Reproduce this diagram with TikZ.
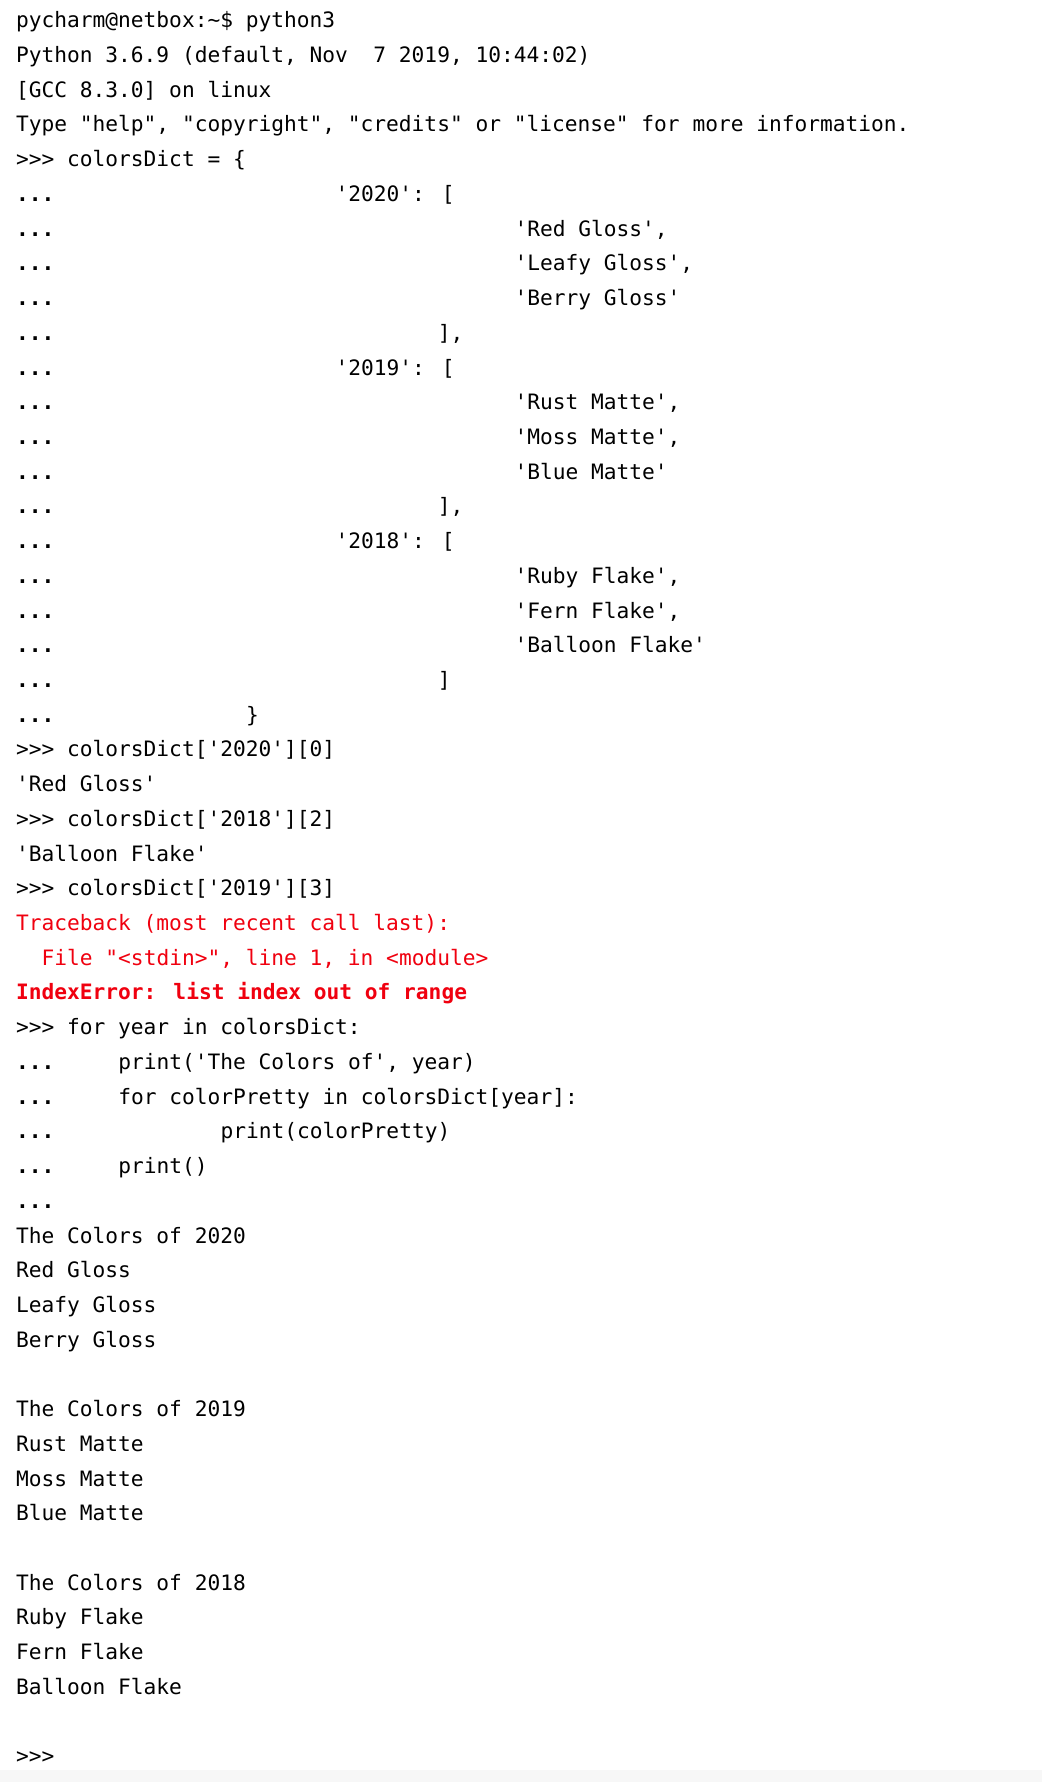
\documentclass[tikz,border=0pt]{standalone}
\usepackage{fontspec}
\newfontfamily\mono{DejaVu Sans Mono}
\definecolor{tred}{HTML}{F0000F}
\tikzset{txt/.style={anchor=base west,inner sep=0pt,font=\mono\fontsize{21.2}{25}\selectfont,text=black}}
\newcommand\tl[4][black]{\node[txt,text=#1] (l#2c#3) at ({15.9+#3*12.78},{-(27.8+(#2-1)*34.72)}) {#4};}
\newcommand\dl[3]{\tl{#1}{0}{\bfseries ...}\tl{#1}{#2}{#3}}
\begin{document}
\begin{tikzpicture}[x=1pt,y=1pt]
\useasboundingbox[fill=white] (0,0) rectangle (1042,-1782);
\fill[black!3] (0,-1770) rectangle (1042,-1782);
\tl{1}{0}{pycharm@netbox:\string~\$ python3}
\tl{2}{0}{Python 3.6.9 (default, Nov~~7 2019, 10:44:02)}
\tl{3}{0}{[GCC 8.3.0] on linux}
\tl{4}{0}{Type "help", "copyright", "credits" or "license" for more information.}
\tl{5}{0}{>>> colorsDict = \{}
\dl{6}{25}{'2020': [}
\dl{7}{39}{'Red Gloss',}
\dl{8}{39}{'Leafy Gloss',}
\dl{9}{39}{'Berry Gloss'}
\dl{10}{33}{],}
\dl{11}{25}{'2019': [}
\dl{12}{39}{'Rust Matte',}
\dl{13}{39}{'Moss Matte',}
\dl{14}{39}{'Blue Matte'}
\dl{15}{33}{],}
\dl{16}{25}{'2018': [}
\dl{17}{39}{'Ruby Flake',}
\dl{18}{39}{'Fern Flake',}
\dl{19}{39}{'Balloon Flake'}
\dl{20}{33}{]}
\dl{21}{18}{\}}
\tl{22}{0}{>>> colorsDict['2020'][0]}
\tl{23}{0}{'Red Gloss'}
\tl{24}{0}{>>> colorsDict['2018'][2]}
\tl{25}{0}{'Balloon Flake'}
\tl{26}{0}{>>> colorsDict['2019'][3]}
\tl[tred]{27}{0}{Traceback (most recent call last):}
\tl[tred]{28}{2}{File "<stdin>", line 1, in <module>}
\tl[tred]{29}{0}{\bfseries IndexError: list index out of range}
\tl{30}{0}{>>> for year in colorsDict:}
\dl{31}{8}{print('The Colors of', year)}
\dl{32}{8}{for colorPretty in colorsDict[year]:}
\dl{33}{16}{print(colorPretty)}
\dl{34}{8}{print()}
\tl{35}{0}{\bfseries ...}
\tl{36}{0}{The Colors of 2020}
\tl{37}{0}{Red Gloss}
\tl{38}{0}{Leafy Gloss}
\tl{39}{0}{Berry Gloss}
\tl{41}{0}{The Colors of 2019}
\tl{42}{0}{Rust Matte}
\tl{43}{0}{Moss Matte}
\tl{44}{0}{Blue Matte}
\tl{46}{0}{The Colors of 2018}
\tl{47}{0}{Ruby Flake}
\tl{48}{0}{Fern Flake}
\tl{49}{0}{Balloon Flake}
\tl{51}{0}{>>>}
\end{tikzpicture}
\end{document}
